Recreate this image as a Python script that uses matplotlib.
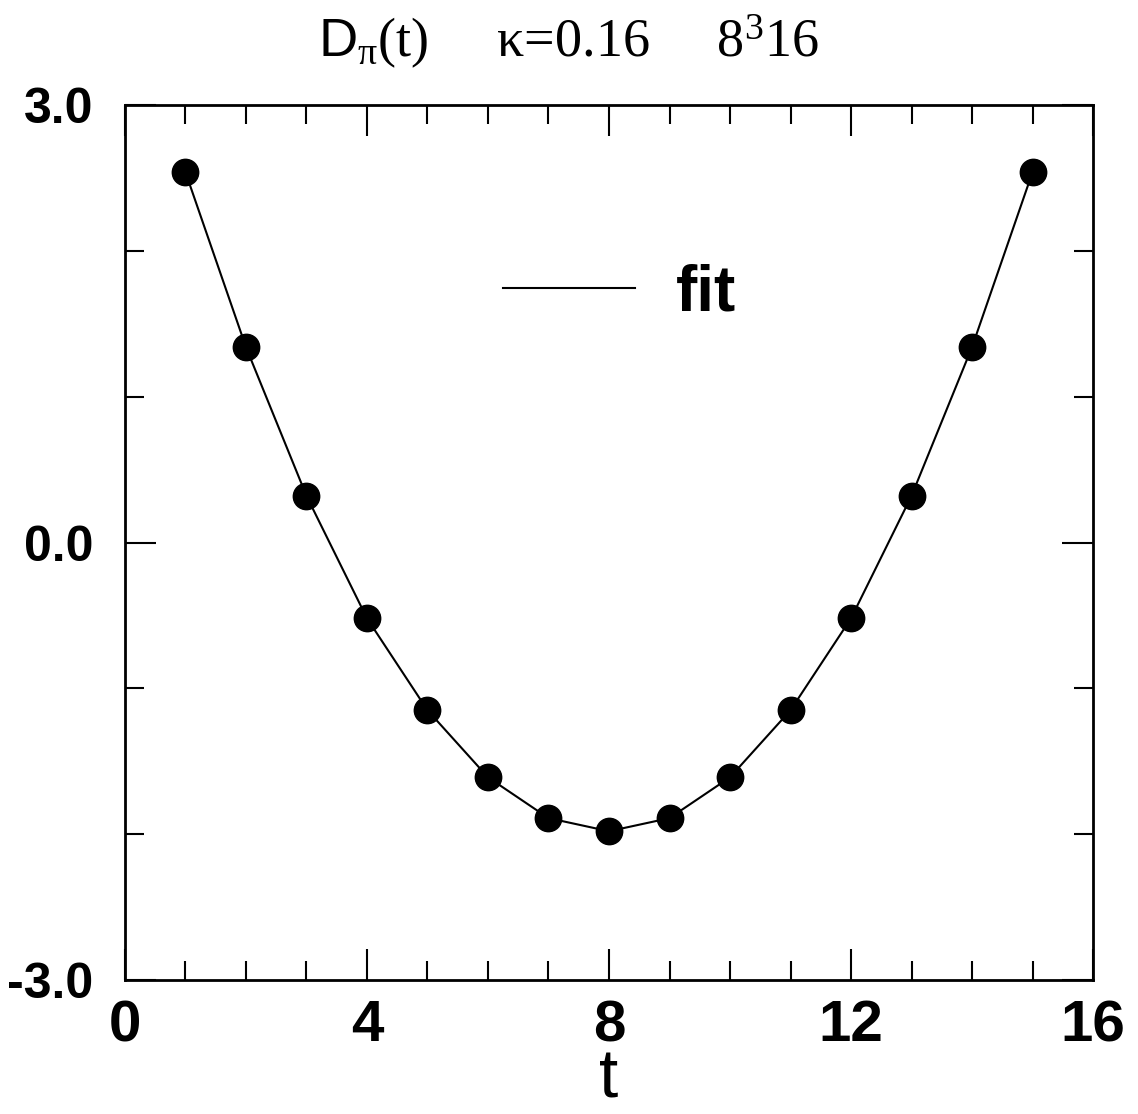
import matplotlib.pyplot as plt
from matplotlib.ticker import MultipleLocator, FixedLocator

# data
t = [1, 2, 3, 4, 5, 6, 7, 8, 9, 10, 11, 12, 13, 14, 15]
d_pi = [2.54, 1.34, 0.32, -0.52, -1.15, -1.61, -1.89, -1.98,
        -1.89, -1.61, -1.15, -0.52, 0.32, 1.34, 2.54]
ytick_vals = [-3.0, 0.0, 3.0]
ytick_labels = ['-3.0', '0.0', '3.0']
xtick_vals = [0, 4, 8, 12, 16]

sans = ['Liberation Sans', 'DejaVu Sans']
serif = ['Liberation Serif', 'DejaVu Serif']

plt.rcParams['mathtext.fontset'] = 'custom'
plt.rcParams['mathtext.rm'] = 'Liberation Serif'
plt.rcParams['mathtext.it'] = 'Liberation Serif:italic'
plt.rcParams['mathtext.sf'] = 'Liberation Sans'

fig = plt.figure(figsize=(11.38, 11.14), dpi=100)
ax = fig.add_axes([0.1098, 0.1203, 0.8507, 0.7854])

ax.plot(t, d_pi, color='black', lw=1.5, label='fit')
ax.plot(t, d_pi, 'o', color='black', ms=19, label='_nolegend_')

ax.set_xlim(0, 16)
ax.set_ylim(-3, 3)

ax.xaxis.set_major_locator(FixedLocator(xtick_vals))
ax.xaxis.set_minor_locator(MultipleLocator(1))
ax.yaxis.set_major_locator(FixedLocator(ytick_vals))
ax.yaxis.set_minor_locator(MultipleLocator(1))
ax.set_yticklabels(ytick_labels)

ax.tick_params(which='both', direction='in', top=True, right=True, width=1.5)
ax.tick_params(which='major', length=22)
ax.tick_params(which='minor', length=14)
ax.tick_params(axis='x', which='major', pad=14)
ax.tick_params(axis='y', which='major', pad=23)
for lab in ax.get_xticklabels():
    lab.set_family(sans)
    lab.set_fontweight('bold')
    lab.set_fontsize(42)
for lab in ax.get_yticklabels():
    lab.set_family(sans)
    lab.set_fontweight('bold')
    lab.set_fontsize(36)

for sp in ax.spines.values():
    sp.set_linewidth(2)

# x label sits at the bottom edge of the figure
ax.set_xlabel('t', family=sans, fontsize=50, va='bottom')
ax.xaxis.set_label_coords(0.5, -0.1505)

fig.text(0.5, 0.962, r'$\mathsf{D}_{\mathrm{π}}$(t)     κ=0.16     8$^{3}$16',
         ha='center', va='center', family=serif, fontsize=39)

leg = ax.legend(loc='center left', bbox_to_anchor=(0.3905, 0.785), frameon=False,
                handlelength=2.06, handletextpad=0.65, borderpad=0, borderaxespad=0,
                prop={'family': sans, 'weight': 'bold', 'size': 46})

fig.savefig('out.png', dpi=100)
